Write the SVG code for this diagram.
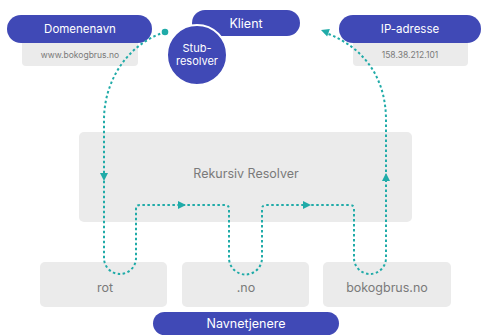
<svg xmlns="http://www.w3.org/2000/svg" width="481" height="336" viewBox="0 0 481 336">
<style>
.pill{fill:#4049B6}
.box{fill:#EBEBEB}
.wt{fill:#fff;font-family:Inter,"Liberation Sans",sans-serif;text-anchor:middle}
.gt{fill:#7a7a7a;font-family:Inter,"Liberation Sans",sans-serif;text-anchor:middle}
.conn{fill:none;stroke:#20ABA8;stroke-width:2;stroke-dasharray:2.5 2.5}
.ah{fill:#20ABA8}
</style>
<defs>
<path id="arr" d="M0,0 L-8,-4 L-8,4 Z"/>
</defs>
<rect width="481" height="336" fill="#fff"/>
<g id="rekursiv-resolver">
<rect class="box" x="79" y="132" width="333" height="90" rx="5"/>
<text class="gt" x="246" y="178" font-size="12.5">Rekursiv Resolver</text>
</g>
<g id="rot">
<rect class="box" x="40" y="262" width="127" height="45" rx="5"/>
<text class="gt" x="105" y="292" font-size="12.5">rot</text>
</g>
<g id="no">
<rect class="box" x="182" y="262" width="127" height="45" rx="5"/>
<text class="gt" x="246" y="292" font-size="12.5">.no</text>
</g>
<g id="bokogbrus">
<rect class="box" x="323" y="262" width="128" height="45" rx="5"/>
<text class="gt" x="387" y="292" font-size="12.5">bokogbrus.no</text>
</g>
<g id="navnetjenere">
<rect class="pill" x="153" y="312" width="186" height="23" rx="11.5"/>
<text class="wt" x="246" y="328" font-size="12.5">Navnetjenere</text>
</g>
<g id="domenenavn">
<rect class="box" x="22" y="36" width="116" height="30" rx="4"/>
<text class="gt" x="80" y="58" font-size="8.5">www.bokogbrus.no</text>
<rect class="pill" x="7" y="15" width="145" height="28" rx="14"/>
<text class="wt" x="80" y="33" font-size="11.5">Domenenavn</text>
</g>
<g id="ip-adresse">
<rect class="box" x="353" y="36" width="115" height="30" rx="4"/>
<text class="gt" x="410" y="58" font-size="8.5">158.38.212.101</text>
<rect class="pill" x="339" y="15" width="142" height="28" rx="14"/>
<text class="wt" x="410" y="33" font-size="11.5">IP-adresse</text>
</g>
<g id="klient">
<rect class="pill" x="192" y="10" width="108" height="26" rx="13"/>
<text class="wt" x="246" y="28" font-size="12.5">Klient</text>
</g>
<g id="stub-resolver">
<circle class="pill" cx="197" cy="55" r="30" stroke="#fff" stroke-width="2"/>
<text class="wt" x="197" y="52" font-size="11">Stub-</text>
<text class="wt" x="197" y="65" font-size="11">resolver</text>
</g>
<g id="connectors">
<circle class="ah" cx="165" cy="32" r="3.3"/>
<path class="conn" d="M165,32 C128,44 104,80 104,120 V258 A16,16 0 0 0 136,258 V209 Q136,205 140,205 H225 Q229,205 229,209 V258 A16.5,16.5 0 0 0 262,258 V209 Q262,205 266,205 H350 Q354,205 354,209 V258 A16,16 0 0 0 386,258 V120 C386,80 366,48 326,33"/>
<use href="#arr" class="ah" transform="translate(104,181) rotate(90)"/>
<use href="#arr" class="ah" transform="translate(386,173) rotate(-90)"/>
<use href="#arr" class="ah" transform="translate(186,205)"/>
<use href="#arr" class="ah" transform="translate(311,205)"/>
<use href="#arr" class="ah" transform="translate(321,30) rotate(-160)"/>
</g>
</svg>
